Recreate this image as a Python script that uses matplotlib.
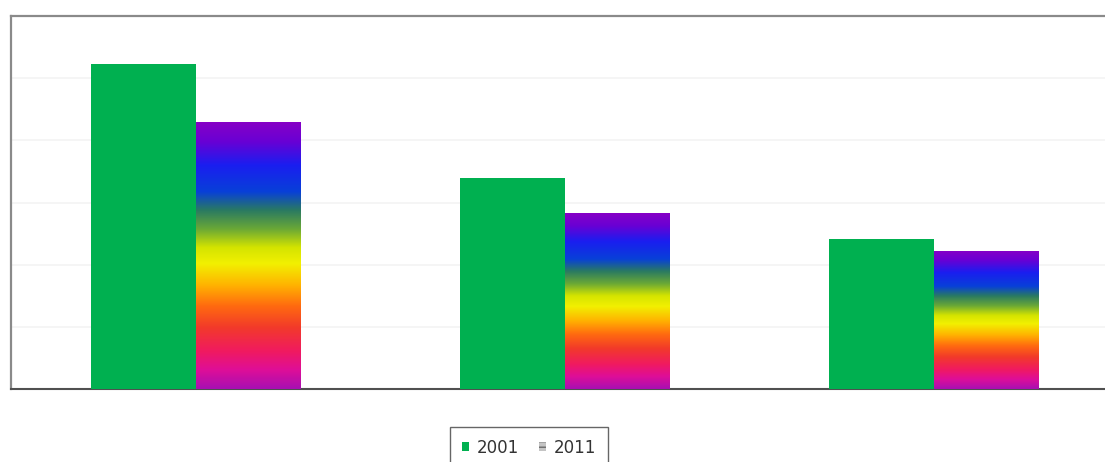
import numpy as np
import matplotlib
matplotlib.use("Agg")
import matplotlib.pyplot as plt
from matplotlib.colors import LinearSegmentedColormap
from matplotlib.patches import Patch

# Data
categories = ["A", "B", "C"]
series_names = ["2001", "2011"]
values_2001 = [5.23, 3.39, 2.41]
values_2011 = [4.29, 2.83, 2.22]

green = "#00b050"

# Rainbow fill used for the 2011 bars (top -> bottom)
rainbow_stops = [
    (0.00, "#8600c6"),
    (0.07, "#6a00d4"),
    (0.16, "#1a1ef0"),
    (0.26, "#0840d8"),
    (0.33, "#2a7a62"),
    (0.40, "#6aa836"),
    (0.47, "#d4e400"),
    (0.53, "#f2f000"),
    (0.61, "#ffb400"),
    (0.69, "#ff6a10"),
    (0.77, "#f23a2a"),
    (0.86, "#f01a60"),
    (0.93, "#de0e98"),
    (1.00, "#a810b2"),
]
rainbow = LinearSegmentedColormap.from_list("rainbow_fill", rainbow_stops)

fig = plt.figure(figsize=(11.05, 4.62), dpi=100)
ax = fig.add_axes([11 / 1105, 73 / 462, 1107 / 1105, 373 / 462])

x = np.arange(len(categories))
w = 0.283
bars_a = ax.bar(x - w / 2, values_2001, width=w, color=green, zorder=3,
                linewidth=0)
bars_b = ax.bar(x + w / 2, values_2011, width=w, facecolor="none",
                linewidth=0, zorder=3)

grad = np.linspace(0, 1, 256)[:, None]
for patch in bars_b:
    l = patch.get_x()
    r = l + patch.get_width()
    h = patch.get_height()
    im = ax.imshow(grad, extent=[l, r, 0, h], aspect="auto", cmap=rainbow,
                   interpolation="bilinear", zorder=3)
    im.set_clip_path(patch)

ax.set_xlim(-0.5, 2.5)
ax.set_ylim(0, 6)
ax.set_yticks(np.arange(1, 6))
ax.set_xticks([])
ax.tick_params(axis="y", length=0, labelleft=False)
ax.grid(axis="y", color="#f3f3f3", linewidth=1.2, zorder=0)

for side in ["left", "top"]:
    ax.spines[side].set_color("#8a8a8a")
    ax.spines[side].set_linewidth(1.6)
ax.spines["bottom"].set_color("#505050")
ax.spines["bottom"].set_linewidth(1.5)
ax.spines["right"].set_visible(False)

handles = [
    Patch(facecolor=green, edgecolor="none"),
    Patch(facecolor="#c4c4c4", edgecolor="#6a6a6a", hatch="---", linewidth=0),
]
leg = fig.legend(handles, series_names, loc="upper left",
                 bbox_to_anchor=(450 / 1105, 1 - 427 / 462),
                 ncol=2, fontsize=12, frameon=True, fancybox=False,
                 edgecolor="#404040", borderaxespad=0, borderpad=0.7,
                 handlelength=0.45, handleheight=0.45, handletextpad=0.45,
                 columnspacing=1.2)
leg.get_frame().set_linewidth(1.0)
for t in leg.get_texts():
    t.set_color("#333333")

fig.savefig("out.png", dpi=100, facecolor="white")
